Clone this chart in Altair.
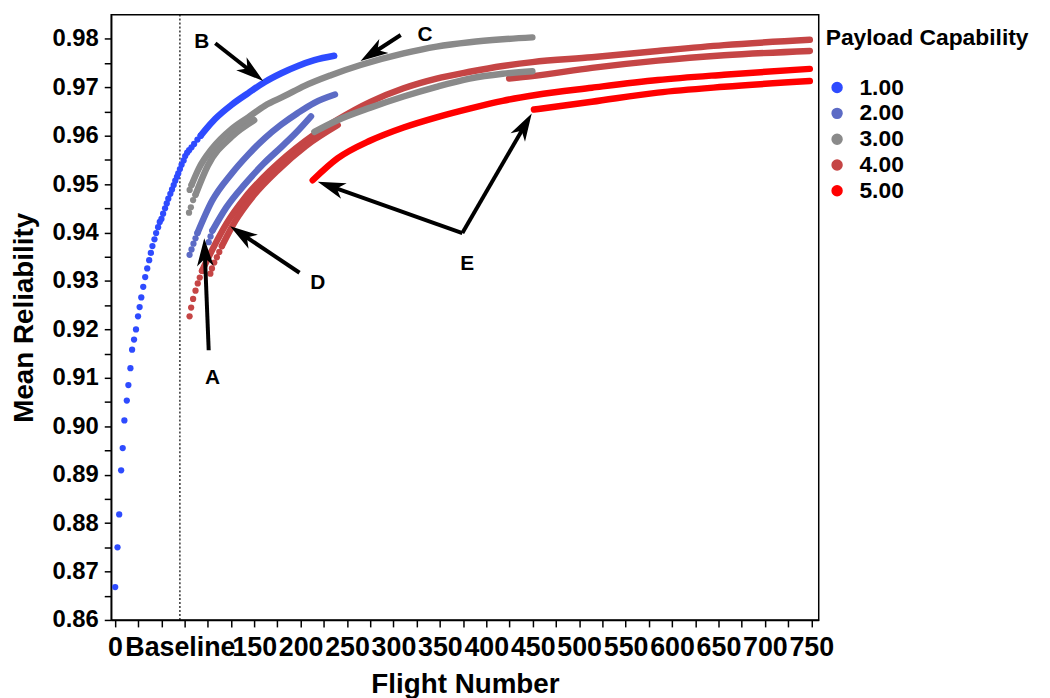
import math
import altair as alt
import pandas as pd

FONT = "Liberation Sans"
NARROW = "Liberation Sans Narrow, Arial Narrow, Liberation Sans"

# ---------------- curve data (flight number, mean reliability) ----------------
# payload 1 (blue)
blue_dot_x = [0.3, 2.8, 4.6, 6.7, 8.4, 10.2, 12.8, 14.5, 16.7, 18.5, 20.6, 22.7, 24.9, 26.6, 28.4,
              30.5, 32.6, 34.8, 36.9, 38.7, 40.4, 42.6, 44.4, 46.5, 48.3, 50.1, 51.9, 54.0, 55.8,
              57.5, 59.7, 61.5, 63.3, 65.0, 66.8, 68.2, 70.0, 71.8, 74.0, 75.7, 77.8, 79.9, 82.5,
              85.3, 88.9, 92.4]
blue_dot_y = [0.8668, 0.8750, 0.8818, 0.8909, 0.8955, 0.9012, 0.9053, 0.9085, 0.9120, 0.9158,
              0.9179, 0.9200, 0.9227, 0.9246, 0.9266, 0.9288, 0.9308, 0.9326, 0.9343, 0.9358,
              0.9372, 0.9386, 0.9399, 0.9411, 0.9422, 0.9428, 0.9439, 0.9450, 0.9460, 0.9470,
              0.9480, 0.9489, 0.9498, 0.9507, 0.9515, 0.9522, 0.9531, 0.9540, 0.9549, 0.9558,
              0.9565, 0.9570, 0.9576, 0.9583, 0.9592, 0.9600]
blue_line_x = [92.4, 97.4, 108.1, 125.8, 143.6, 161.5, 179.2, 197.0, 214.8, 236.2]
blue_line_y = [0.9600, 0.9612, 0.9635, 0.9664, 0.9688, 0.9711, 0.9729, 0.9744, 0.9756, 0.9765]

# payload 2 (mid blue)
mb1_dot_x = [80.4, 82.5, 84.6, 86.8, 88.9]
mb1_dot_y = [0.9354, 0.9365, 0.9377, 0.9388, 0.9399]
mb1_line_x = [88.9, 104.5, 125.8, 143.6, 161.5, 179.2, 197.0, 214.8, 237.0]
mb1_line_y = [0.9399, 0.9465, 0.9522, 0.9561, 0.9595, 0.9623, 0.9647, 0.9668, 0.9685]
mb2_dot_x = [101.0, 103.0, 105.0]
mb2_dot_y = [0.9380, 0.9392, 0.9404]
mb2_line_x = [105.0, 120.0, 140.0, 160.0, 180.0, 195.0, 211.2]
mb2_line_y = [0.9404, 0.9452, 0.9500, 0.9542, 0.9578, 0.9606, 0.9640]

# payload 3 (gray)
g1_dot_x = [80.5, 82.5]
g1_dot_y = [0.9488, 0.9498]
g1_line_x = [82.5, 90.3, 104.5, 125.8, 143.6, 161.5, 182.8, 204.2, 232.6, 264.6, 310.9, 346.4,
             382.0, 417.6, 449.6]
g1_line_y = [0.9498, 0.9532, 0.9573, 0.9614, 0.9638, 0.9662, 0.9682, 0.9703, 0.9725, 0.9746,
             0.9770, 0.9784, 0.9793, 0.9799, 0.9803]
g2_dot_x = [79.8, 81.8, 84.2, 86.8]
g2_dot_y = [0.9441, 0.9452, 0.9467, 0.9478]
g2_line_x = [86.8, 100.0, 125.8, 150.0]
g2_line_y = [0.9478, 0.9538, 0.9598, 0.9632]
g3_line_x = [214.8, 239.7, 275.2, 310.9, 346.4, 382.0, 417.6, 449.6]
g3_line_y = [0.9608, 0.9632, 0.9658, 0.9681, 0.9701, 0.9718, 0.9728, 0.9733]

# payload 4 (brownish red)
r4a_dot_x = [80.4, 82.1, 84.2, 86.8, 89.2, 91.4, 93.8]
r4a_dot_y = [0.9227, 0.9245, 0.9263, 0.9280, 0.9295, 0.9307, 0.9321]
r4a_line_x = [93.8, 105.0, 120.0, 140.0, 168.5, 204.2, 239.7, 275.2, 310.9, 346.4, 382.0, 417.6,
              449.6, 513.7, 584.7, 655.9, 748.4]
r4a_line_y = [0.9321, 0.9365, 0.9418, 0.9472, 0.9530, 0.9588, 0.9633, 0.9670, 0.9698, 0.9718,
              0.9732, 0.9744, 0.9752, 0.9762, 0.9775, 0.9787, 0.9798]
r4b_dot_x = [102.8, 104.5, 107.0, 109.8, 112.4, 115.2]
r4b_dot_y = [0.9315, 0.9326, 0.9338, 0.9349, 0.9360, 0.9372]
r4b_line_x = [115.2, 130.0, 150.0, 175.0, 205.0, 240.0]
r4b_line_y = [0.9372, 0.9425, 0.9478, 0.9528, 0.9578, 0.9622]
r4c_line_x = [424.6, 449.6, 513.7, 584.7, 655.9, 748.4]
r4c_line_y = [0.9718, 0.9723, 0.9740, 0.9755, 0.9766, 0.9775]

# payload 5 (red)
r5a_line_x = [213.0, 239.7, 275.2, 310.9, 346.4, 382.0, 417.6, 453.1, 513.7, 584.7, 655.9, 748.4]
r5a_line_y = [0.9508, 0.9553, 0.9590, 0.9617, 0.9638, 0.9656, 0.9672, 0.9684, 0.9699, 0.9715,
              0.9726, 0.9738]
r5b_line_x = [451.3, 513.7, 584.7, 655.9, 748.4]
r5b_line_y = [0.9654, 0.9670, 0.9689, 0.9701, 0.9713]

curves = [
    ("r4a", 4.0, r4a_dot_x, r4a_dot_y, r4a_line_x, r4a_line_y),
    ("r4b", 4.0, r4b_dot_x, r4b_dot_y, r4b_line_x, r4b_line_y),
    ("r4c", 4.0, [], [], r4c_line_x, r4c_line_y),
    ("g3", 3.0, [], [], g3_line_x, g3_line_y),
    ("r5a", 5.0, [], [], r5a_line_x, r5a_line_y),
    ("r5b", 5.0, [], [], r5b_line_x, r5b_line_y),
    ("mb2", 2.0, mb2_dot_x, mb2_dot_y, mb2_line_x, mb2_line_y),
    ("mb1", 2.0, mb1_dot_x, mb1_dot_y, mb1_line_x, mb1_line_y),
    ("g2", 3.0, g2_dot_x, g2_dot_y, g2_line_x, g2_line_y),
    ("g1", 3.0, g1_dot_x, g1_dot_y, g1_line_x, g1_line_y),
    ("blue", 1.0, blue_dot_x, blue_dot_y, blue_line_x, blue_line_y),
]

# baseline marker
baseline_x = [70]

# annotations
arrow_tail_x = [101.0, 108.1, 307.8, 198.8, 374.2, 374.2]
arrow_tail_y = [0.9157, 0.9791, 0.9808, 0.9317, 0.9399, 0.9399]
arrow_tip_x = [96.2, 159.7, 264.6, 124.1, 218.4, 448.9]
arrow_tip_y = [0.9388, 0.9713, 0.9754, 0.9413, 0.9505, 0.9646]
label_text = ["A", "B", "C", "D", "E"]
label_x = [105.2, 93.5, 333.9, 218.4, 379.5]
label_y = [0.9100, 0.9794, 0.9808, 0.9296, 0.9335]

# ---------------- layout ----------------
W, H = 713, 610
XDOM = [-4, 758]
YDOM = [0.86, 0.985]
kx = W / (XDOM[1] - XDOM[0])
ky = H / (YDOM[1] - YDOM[0])

dot_rows, line_rows = [], []
order = 0
for name, pay, dx, dy, lx, ly in curves:
    order += 1
    for a, b in zip(dx, dy):
        dot_rows.append({"flight": a, "rel": b, "payload": pay, "curve": name})
    for a, b in zip(lx, ly):
        line_rows.append({"flight": a, "rel": b, "payload": pay, "curve": f"{order:02d}_{name}"})
dots = pd.DataFrame(dot_rows)
lines = pd.DataFrame(line_rows)

HEAD = 28.0
shaft_rows, head_rows = [], []
for tx, ty, hx, hy in zip(arrow_tail_x, arrow_tail_y, arrow_tip_x, arrow_tip_y):
    dxp = (hx - tx) * kx
    dyp = -(hy - ty) * ky  # screen coords (down positive)
    L = math.hypot(dxp, dyp)
    ux, uy = dxp / L, dyp / L
    ang = math.degrees(math.atan2(ux, -uy)) % 360
    cx = hx - ux * HEAD / 2 / kx
    cy = hy + uy * HEAD / 2 / ky
    ex = hx - ux * HEAD * 0.55 / kx
    ey = hy + uy * HEAD * 0.55 / ky
    shaft_rows.append({"x": tx, "y": ty, "x2": ex, "y2": ey})
    head_rows.append({"x": cx, "y": cy, "ang": ang})
shafts = pd.DataFrame(shaft_rows)
heads = pd.DataFrame(head_rows)
labels = pd.DataFrame({"x": label_x, "y": label_y, "t": label_text})

x_ticks = sorted(set(list(range(0, 751, 25)) + baseline_x))
y_ticks = [round(0.86 + 0.005 * i, 3) for i in range(25)]

xscale = alt.Scale(domain=XDOM, nice=False, zero=False)
yscale = alt.Scale(domain=YDOM, nice=False, zero=False)

x_axis = alt.Axis(
    title="Flight Number", values=x_ticks,
    labelExpr="datum.value == 70 ? 'Baseline' : (datum.value == 0 || (datum.value >= 150 && datum.value % 50 == 0)) ? datum.value : ''",
    labelOverlap=False, labelFlush=False, tickSize=7, labelPadding=8, titlePadding=10,
    labelFont=NARROW, labelFontSize=27,
    tickOpacity={"condition": {"test": "datum.value == 70", "value": 0}, "value": 1},
)
y_axis = alt.Axis(
    title="Mean Reliability", values=y_ticks,
    labelExpr="abs(datum.value * 100 - round(datum.value * 100)) < 0.01 ? format(datum.value, '.2f') : ''",
    labelOverlap=False, labelFlush=False, tickSize=7, labelPadding=6, titlePadding=14,
    labelFontSize=24,
)

color = alt.Color(
    "payload:Q",
    scale=alt.Scale(domain=[1, 3, 5], range=["#2e4bff", "#8a8a8a", "#ff0000"], interpolate="rgb"),
    legend=alt.Legend(
        type="gradient",
        title="Payload Capability", orient="none", legendX=720, legendY=13, direction="vertical",
        gradientLength=155, gradientThickness=29, values=[1, 2, 3, 4, 5], format=".2f",
        labelFontSize=23, labelFont=FONT, labelFontWeight="bold", labelColor="black",
        titleFontSize=23, titleFont=FONT, titleFontWeight="bold", titleColor="black",
        labelOffset=11, titlePadding=26, labelBaseline="middle", labelOverlap=False,
        titleLimit=400, gradientStrokeWidth=0,
    ),
)

X = lambda f: alt.X(f, type="quantitative", scale=xscale, axis=x_axis)
Y = lambda f: alt.Y(f, type="quantitative", scale=yscale, axis=y_axis)

baseline = alt.Chart(pd.DataFrame({"b": baseline_x})).mark_rule(
    color="black", strokeDash=[2, 2], strokeWidth=1.2
).encode(x=X("b"))

line_layer = alt.Chart(lines).mark_line(
    strokeWidth=6.5, strokeCap="round", strokeJoin="round", interpolate="monotone"
).encode(x=X("flight"), y=Y("rel"), color=color, detail="curve:N", order="flight:Q")

dot_layer = alt.Chart(dots).mark_circle(size=40, opacity=1).encode(
    x=X("flight"), y=Y("rel"), color=color
)

shaft_layer = alt.Chart(shafts).mark_rule(color="black", strokeWidth=4).encode(
    x=X("x"), y=Y("y"), x2="x2", y2="y2"
)

head_layer = alt.Chart(heads).mark_point(
    shape="M0,-1 L0.6,1 L0,0.45 L-0.6,1 Z", filled=True, color="black", opacity=1,
    size=HEAD * HEAD, strokeWidth=0
).encode(x=X("x"), y=Y("y"), angle=alt.Angle("ang:Q", scale=None))

label_layer = alt.Chart(labels).mark_text(
    font=FONT, fontSize=21, fontWeight="bold", color="black"
).encode(x=X("x"), y=Y("y"), text="t:N")

chart = alt.layer(
    baseline, line_layer, dot_layer, shaft_layer, head_layer, label_layer
).properties(
    width=W, height=H, autosize="none",
    padding={"left": 104, "top": 4, "right": 225, "bottom": 80},
).configure_axis(
    labelFont=FONT, titleFont=FONT, labelFontSize=23, titleFontSize=28,
    labelFontWeight="bold", titleFontWeight="bold", labelColor="black", titleColor="black",
    domainColor="black", tickColor="black", domainWidth=1.5, tickWidth=1.5, grid=False,
).configure_view(stroke="black", strokeWidth=1.5)

chart.save("out.html", embed_options={"renderer": "svg", "actions": False})
